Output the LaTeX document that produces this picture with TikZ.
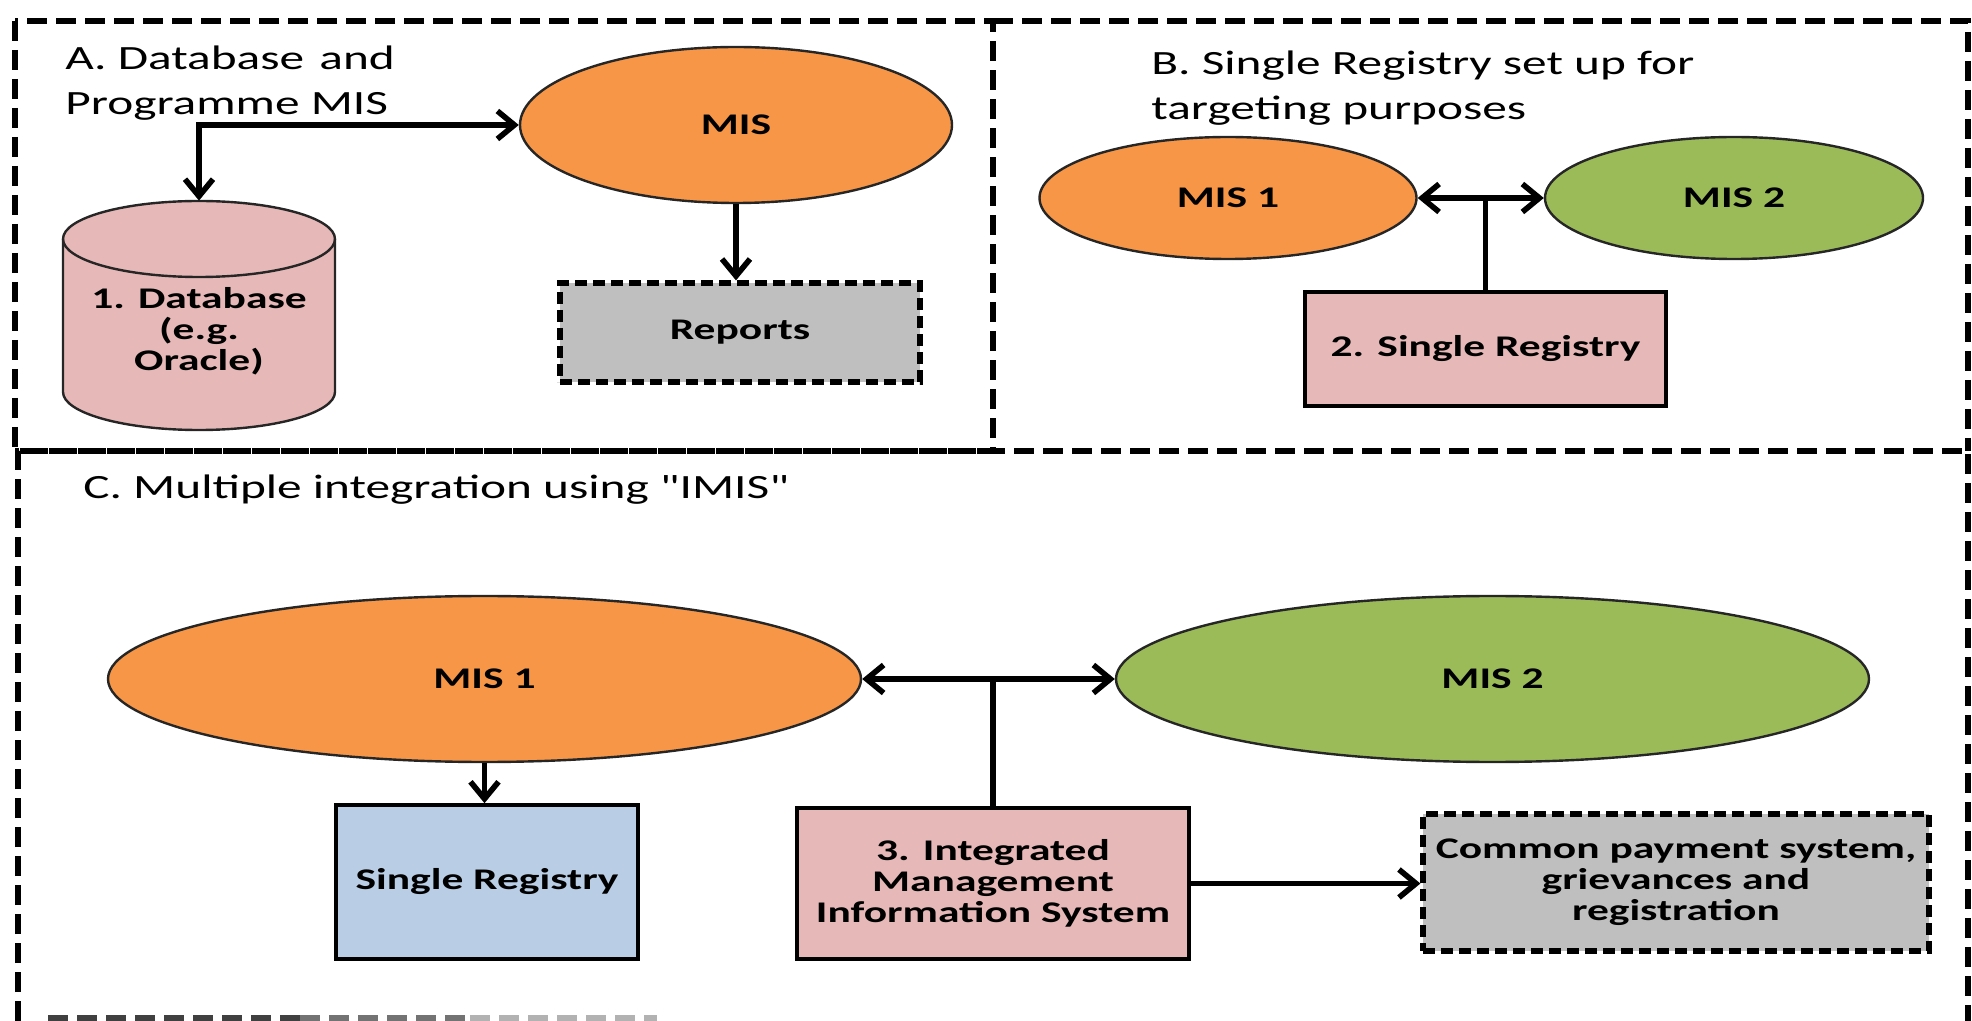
\documentclass[tikz,border=0pt]{standalone}
\usepackage{fontspec}
\setmainfont{Carlito}[FakeStretch=1.45, Ligatures=TeXOff]
\usetikzlibrary{shapes.geometric,arrows.meta}
\definecolor{misorange}{HTML}{F79646}
\definecolor{misgreen}{HTML}{9BBB59}
\definecolor{pinkfill}{HTML}{E6B9B8}
\definecolor{bluefill}{HTML}{B9CDE5}
\definecolor{grayfill}{HTML}{BFBFBF}
\begin{document}
\begin{tikzpicture}[x=0.5pt,y=-0.5pt,
  >={Straight Barb[length=8.5pt,width=14pt]},
  frame/.style={draw=black, line width=2.8pt, dash pattern=on 10pt off 4.5pt},
  conn/.style={draw=black, line width=2.8pt},
  title/.style={inner sep=0pt, align=left, font=\fontsize{17}{22.5}\selectfont},
  nodefont/.style={font=\fontsize{15}{15.5}\selectfont\bfseries},
  ell/.style={ellipse, draw=black!85, line width=1.2pt, inner sep=0pt, nodefont},
  box/.style={rectangle, draw=black, line width=1.8pt, inner sep=0pt, align=center, nodefont},
  dbox/.style={box, fill=grayfill, line width=2.6pt, dash pattern=on 6pt off 3pt}]
\useasboundingbox (0,0) rectangle (1972,1021);

% ---------- frames ----------
\draw[frame] (15,21) rectangle (993,451);
\draw[frame] (993,21) -- (1968,21) -- (1968,451);
\draw[frame] (18,1021) -- (18,451) -- (1968,451) -- (1968,1021);
\draw[frame, draw=black!75] (48,1018) -- (300,1018);
\draw[frame, draw=black!55] (300,1018) -- (470,1018);
\draw[frame, draw=black!30] (470,1018) -- (657,1018);

% ---------- Panel A ----------
\node[title, anchor=base west] (tA) at (65,115) {A. Database\hspace{0.45em}and\\Programme MIS};
\node[ell, fill=misorange, minimum width=216pt, minimum height=78pt] (misA) at (736,125) {MIS};
\node[dbox, minimum width=180pt, minimum height=49.5pt] (rep) at (740,332.5) {Reports};
\filldraw[fill=pinkfill, draw=black!85, line width=1.2pt]
  (63,239) -- (63,392) arc[start angle=180, end angle=360, x radius=68pt, y radius=19pt]
  -- (335,239) arc[start angle=0, end angle=180, x radius=68pt, y radius=19pt] -- cycle;
\draw[draw=black!85, line width=1.2pt]
  (63,239) arc[start angle=180, end angle=360, x radius=68pt, y radius=19pt];
\node[nodefont, align=center, inner sep=0pt, minimum width=136pt, minimum height=130pt] (db) at (199,331) {1. Database\\(e.g.\\Oracle)};
\draw[conn,<->] (db.north) |- (misA.west);
\draw[conn,->] (misA.south) -- (misA.south |- rep.north);

% ---------- Panel B ----------
\node[title, anchor=base west] (tB) at (1151,120) {B. Single Registry set up for\\targeting purposes};
\node[ell, fill=misorange, minimum width=188.5pt, minimum height=61pt] (b1) at (1228,198) {MIS 1};
\node[ell, fill=misgreen, minimum width=189pt, minimum height=61pt] (b2) at (1734,198) {MIS 2};
\node[box, fill=pinkfill, minimum width=180.5pt, minimum height=57pt] (srB) at (1485.5,349) {2. Single Registry};
\draw[conn,<->] (b1) -- (b2);
\draw[conn] (srB.north) -- (srB.north |- b1.east);

% ---------- Panel C ----------
\node[title, anchor=base west] (tC) at (83,498.5) {C. Multiple integration using "IMIS"};
\node[ell, fill=misorange, minimum width=376.5pt, minimum height=83pt] (c1) at (484.5,679) {MIS 1};
\node[ell, fill=misgreen, minimum width=376.5pt, minimum height=83pt] (c2) at (1492.5,679) {MIS 2};
\node[box, fill=bluefill, minimum width=151pt, minimum height=77pt] (srC) at (487,882) {Single Registry};
\node[box, fill=pinkfill, minimum width=196pt, minimum height=75.5pt] (imis) at (993,883.5) {3. Integrated\\Management\\Information System};
\node[dbox, minimum width=253pt, minimum height=68.5pt] (cps) at (1676,882.5) {Common payment system,\\grievances and\\registration};
\draw[conn,<->] (c1) -- (c2);
\draw[conn] (imis.north) -- (imis.north |- c1.east);
\draw[conn,->] (c1.south) -- (c1.south |- srC.north);
\draw[conn,->] (imis.east) -- (imis.east -| cps.west);
\end{tikzpicture}
\end{document}
